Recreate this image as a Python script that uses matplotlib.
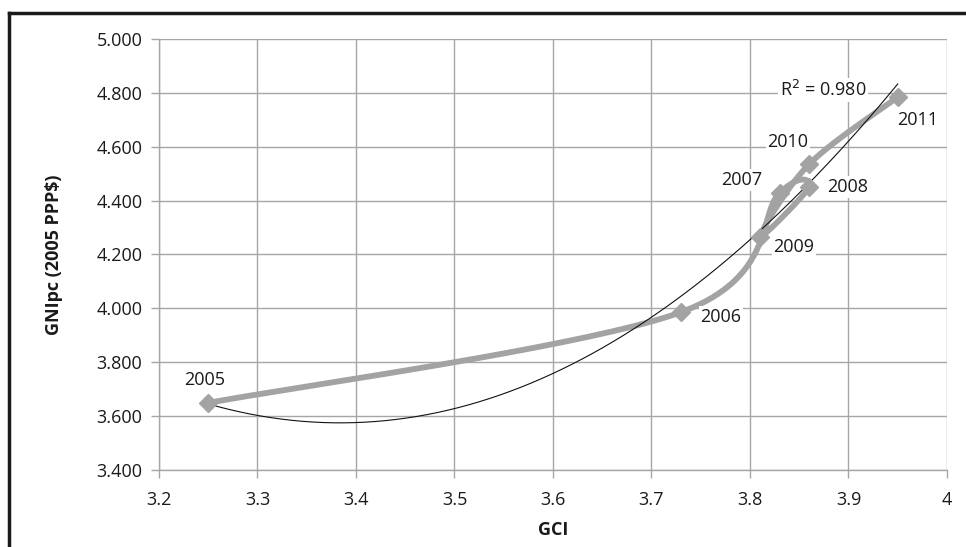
import numpy as np
import matplotlib.pyplot as plt
from matplotlib.lines import Line2D
from matplotlib.ticker import FormatStrFormatter, FuncFormatter

# data
years = ['2005', '2006', '2007', '2008', '2009', '2010', '2011']
gci = [3.25, 3.73, 3.83, 3.86, 3.81, 3.86, 3.95]
gnipc = [3.649, 3.986, 4.428, 4.450, 4.265, 4.535, 4.784]

# label offsets in pixels (dx, dy) relative to each marker
label_offsets = [(-4, 23), (40, -5), (-38, 13), (38, 0), (34, -10), (-21, 22), (20, -23)]

x_ticks = [3.2, 3.3, 3.4, 3.5, 3.6, 3.7, 3.8, 3.9, 4.0]
y_ticks = [3.4, 3.6, 3.8, 4.0, 4.2, 4.4, 4.6, 4.8, 5.0]

plt.rcParams['font.family'] = ['Open Sans', 'DejaVu Sans']


def smooth_line(xs, ys, n=40):
    # Excel-like smoothed line (Catmull-Rom as cubic bezier)
    pts = np.column_stack([xs, ys])
    out = []
    for i in range(len(pts) - 1):
        p0 = pts[i - 1] if i > 0 else pts[i]
        p1 = pts[i]
        p2 = pts[i + 1]
        p3 = pts[i + 2] if i + 2 < len(pts) else pts[i + 1]
        c1 = p1 + (p2 - p0) / 6.0
        c2 = p2 - (p3 - p1) / 6.0
        t = np.linspace(0, 1, n)[:, None]
        seg = ((1 - t) ** 3) * p1 + 3 * ((1 - t) ** 2) * t * c1 + 3 * (1 - t) * t ** 2 * c2 + t ** 3 * p2
        out.append(seg if i == 0 else seg[1:])
    out = np.vstack(out)
    return out[:, 0], out[:, 1]


fig = plt.figure(figsize=(9.66, 5.47), dpi=100)
ax = fig.add_axes([0.1646, 0.1408, 0.8157, 0.7879])

grid_c = '#a6a6a6'
series_c = '#a3a3a3'
fs = 13

ax.set_xlim(3.2, 4.0)
ax.set_ylim(3.4, 5.0)
ax.set_xticks(x_ticks)
ax.set_yticks(y_ticks)
ax.xaxis.set_major_formatter(FuncFormatter(lambda v, p: '4' if abs(v - 4) < 1e-9 else '%.1f' % v))
ax.yaxis.set_major_formatter(FormatStrFormatter('%.3f'))
ax.grid(True, color=grid_c, linewidth=1.0, zorder=0)
ax.set_axisbelow(True)
for s in ['top', 'right']:
    ax.spines[s].set_visible(False)
for s in ['left', 'bottom']:
    ax.spines[s].set_color(grid_c)
    ax.spines[s].set_linewidth(1.0)
ax.tick_params(axis='both', colors=grid_c, labelcolor='#1a1a1a', labelsize=fs, length=6, width=1.0)
ax.tick_params(axis='x', pad=9)
ax.tick_params(axis='y', pad=6)

# polynomial trendline (order 2)
coef = np.polyfit(gci, gnipc, 2)
xt = np.linspace(min(gci), max(gci), 200)
ax.plot(xt, np.polyval(coef, xt), color='#111111', linewidth=0.8, zorder=4)

# smoothed series with diamond markers
sx, sy = smooth_line(gci, gnipc)
ax.plot(sx, sy, color=series_c, linewidth=4.2, solid_capstyle='round', zorder=3)
ax.plot(gci, gnipc, linestyle='none', marker='D', markersize=9.5, color=series_c, zorder=5)

for yr, x, y, (dx, dy) in zip(years, gci, gnipc, label_offsets):
    ax.annotate(yr, (x, y), xytext=(dx, dy), textcoords='offset pixels',
                ha='center', va='center', fontsize=fs, color='#1a1a1a', zorder=6,
                bbox=dict(boxstyle='square,pad=0.1', fc='white', ec='none'))

ax.text(3.874, 4.81, 'R$^2$ = 0.980', ha='center', va='center', fontsize=fs, color='#1a1a1a',
        zorder=6, bbox=dict(boxstyle='square,pad=0.1', fc='white', ec='none'))

ax.set_xlabel('GCI', fontsize=fs, fontweight='bold', color='#1a1a1a', labelpad=9)
ax.set_ylabel('GNIpc (2005 PPP$)', fontsize=fs, fontweight='bold', color='#1a1a1a', labelpad=24)

# outer frame (top and left edges)
fig.add_artist(Line2D([9 / 966, 1.0], [1 - 13 / 547, 1 - 13 / 547], color='#1a1a1a', linewidth=2.5,
                      transform=fig.transFigure))
fig.add_artist(Line2D([9 / 966, 9 / 966], [0.0, 1 - 13 / 547], color='#1a1a1a', linewidth=2.5,
                      transform=fig.transFigure))

fig.savefig('out.png', dpi=100)
